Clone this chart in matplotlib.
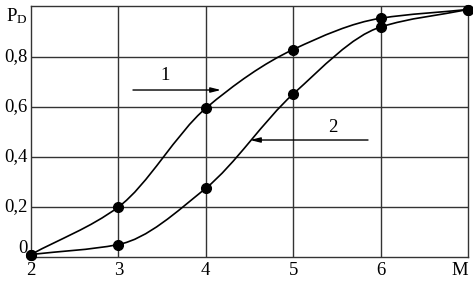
"""
Detection probability P_D versus M for two cases (curves 1 and 2).
"""

import numpy as np
import matplotlib
matplotlib.use('Agg')
import matplotlib.pyplot as plt
from matplotlib.path import Path
from matplotlib.patches import PathPatch

plt.rcParams['font.family'] = 'Liberation Serif'
plt.rcParams['mathtext.fontset'] = 'custom'
plt.rcParams['mathtext.rm'] = 'Liberation Serif'
plt.rcParams['mathtext.it'] = 'Liberation Serif'

M = [2, 3, 4, 5, 6, 7]
PD_1 = [0.01, 0.20, 0.595, 0.83, 0.955, 0.99]
PD_2 = [0.01, 0.05, 0.275, 0.652, 0.92, 0.99]

X_TICKS = [2, 3, 4, 5, 6]
X_LABELS = ['2', '3', '4', '5', '6']
Y_TICKS = [0.2, 0.4, 0.6, 0.8]
Y_LABELS = ['0,2', '0,4', '0,6', '0,8']

FS = 13.5


def smooth_path(x, y):
    # monotone cubic (Fritsch-Carlson) tangents, drawn as Bezier segments
    x = np.asarray(x, float)
    y = np.asarray(y, float)
    h = np.diff(x)
    d = np.diff(y) / h
    m = np.zeros_like(y)
    m[0], m[-1] = d[0], d[-1]
    for i in range(1, len(x) - 1):
        if d[i - 1] * d[i] <= 0:
            m[i] = 0
        else:
            w1 = 2 * h[i] + h[i - 1]
            w2 = h[i] + 2 * h[i - 1]
            m[i] = (w1 + w2) / (w1 / d[i - 1] + w2 / d[i])
    verts = [(x[0], y[0])]
    codes = [Path.MOVETO]
    for i in range(len(x) - 1):
        verts += [(x[i] + h[i] / 3, y[i] + m[i] * h[i] / 3),
                  (x[i + 1] - h[i] / 3, y[i + 1] - m[i + 1] * h[i] / 3),
                  (x[i + 1], y[i + 1])]
        codes += [Path.CURVE4] * 3
    return Path(verts, codes)


fig = plt.figure(figsize=(4.73, 2.81), dpi=100)
ax = fig.add_axes([0.0655, 0.0854, 0.9239, 0.8932])
ax.set_xlim(2, 7)
ax.set_ylim(0, 1.004)

for xv in [3, 4, 5, 6]:
    ax.axvline(xv, color='#333333', lw=1.0, zorder=1)
for yv in Y_TICKS:
    ax.axhline(yv, color='#333333', lw=1.0, zorder=1)
for s in ax.spines.values():
    s.set_color('#333333')
    s.set_linewidth(1.0)

ax.set_xticks([])
ax.set_yticks([])

for xs, ys in [(M, PD_1), (M, PD_2)]:
    ax.add_patch(PathPatch(smooth_path(xs, ys), fc='none', ec='black', lw=1.2, zorder=3))
    ax.plot(xs, ys, 'o', color='black', ms=7, zorder=4, clip_on=False)

# tick labels
for xv, lab in zip(X_TICKS, X_LABELS):
    ax.text(xv, -0.052, lab, ha='center', va='center', fontsize=FS)
ax.text(7.0, -0.052, 'M', ha='right', va='center', fontsize=FS)
for yv, lab in zip(Y_TICKS, Y_LABELS):
    ax.text(1.96, yv, lab, ha='right', va='center', fontsize=FS)
ax.text(1.96, 0.036, '0', ha='right', va='center', fontsize=FS)
ax.text(1.96, 0.965, r'P$_\mathrm{D}$', ha='right', va='center', fontsize=FS)

# curve labels and arrows
arrow = dict(arrowstyle='-|>,head_length=0.6,head_width=0.15', color='black',
             lw=1.0, shrinkA=0, shrinkB=0)
ax.annotate('', xy=(4.174, 0.668), xytext=(3.167, 0.668), arrowprops=arrow)
ax.text(3.53, 0.728, '1', ha='center', va='center', fontsize=FS)
ax.annotate('', xy=(4.506, 0.468), xytext=(5.856, 0.468), arrowprops=arrow)
ax.text(5.455, 0.52, '2', ha='center', va='center', fontsize=FS)

plt.savefig('out.png', dpi=100)
